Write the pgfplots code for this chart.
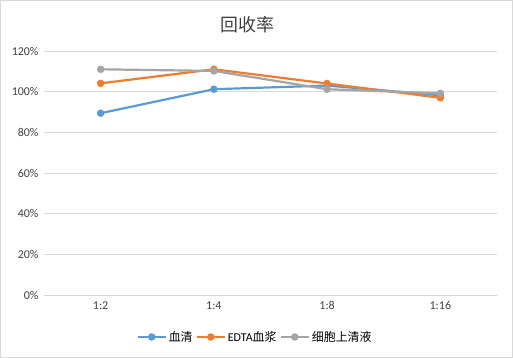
\documentclass[border=0pt]{standalone}
\usepackage{pgfplots}
\pgfplotsset{compat=1.18}
\usepackage{fontspec}
\setmainfont{Carlito}
\newfontfamily\cjk{Noto Sans CJK SC}
\definecolor{cblue}{HTML}{5B9BD5}
\definecolor{corange}{HTML}{ED7D31}
\definecolor{cgray}{HTML}{A5A5A5}
\definecolor{tgray}{HTML}{404040}
\definecolor{ggray}{HTML}{D9D9D9}
\begin{document}
\begin{tikzpicture}
\draw[ggray, line width=0.8bp] (0.4bp,0.4bp) rectangle (512.6bp,357.6bp);
\begin{axis}[
  at={(44bp,63bp)}, anchor=south west,
  scale only axis, width=453bp, height=244bp,
  xmin=0, xmax=4, ymin=0, ymax=120,
  xtick={0.5,1.5,2.5,3.5},
  xticklabels={1:2,1:4,1:8,1:16},
  ytick={0,20,40,60,80,100,120},
  yticklabel={\pgfmathprintnumber{\tick}\%},
  /pgf/number format/assume math mode=true,
  axis line style={draw=none},
  ymajorgrids, grid style={ggray, line width=0.8bp},
  tick style={draw=none},
  ticklabel style={font=\fontsize{12}{14}\selectfont, text=tgray},
  yticklabel style={xshift=-2bp},
  xticklabel style={yshift=-3bp},
  title={\cjk 回收率},
  title style={font=\cjk\fontsize{18}{20}\selectfont, text=tgray, at={(axis description cs:0.5,1)}, anchor=center, yshift=20bp, xshift=-23bp},
  legend columns=-1,
  legend style={draw=none, fill=none, font=\fontsize{12}{14}\selectfont, text=black,
    at={(axis description cs:0.466,0)}, anchor=center, yshift=-42bp,
    inner sep=0pt,
    /tikz/every even column/.append style={column sep=1bp},
    /tikz/every odd column/.append style={column sep=0bp}},
  legend image code/.code={\draw[mark repeat=2,mark phase=2,#1] plot coordinates {(0bp,0bp)(14bp,0bp)(28bp,0bp)};},
  every axis plot/.append style={line width=2.2bp, mark=*, mark size=2.6bp},
]
\addplot[cblue, mark options={fill=cblue}] coordinates {(0.5,89.4)(1.5,101.2)(2.5,103)(3.5,98.2)};
\addplot[corange, mark options={fill=corange}] coordinates {(0.5,104.1)(1.5,111)(2.5,104)(3.5,97)};
\addplot[cgray, mark options={fill=cgray}] coordinates {(0.5,111)(1.5,110.2)(2.5,101.2)(3.5,99.2)};
\legend{{\cjk 血清},{EDTA\cjk 血浆},{\cjk 细胞上清液}}
\end{axis}
\end{tikzpicture}
\end{document}
